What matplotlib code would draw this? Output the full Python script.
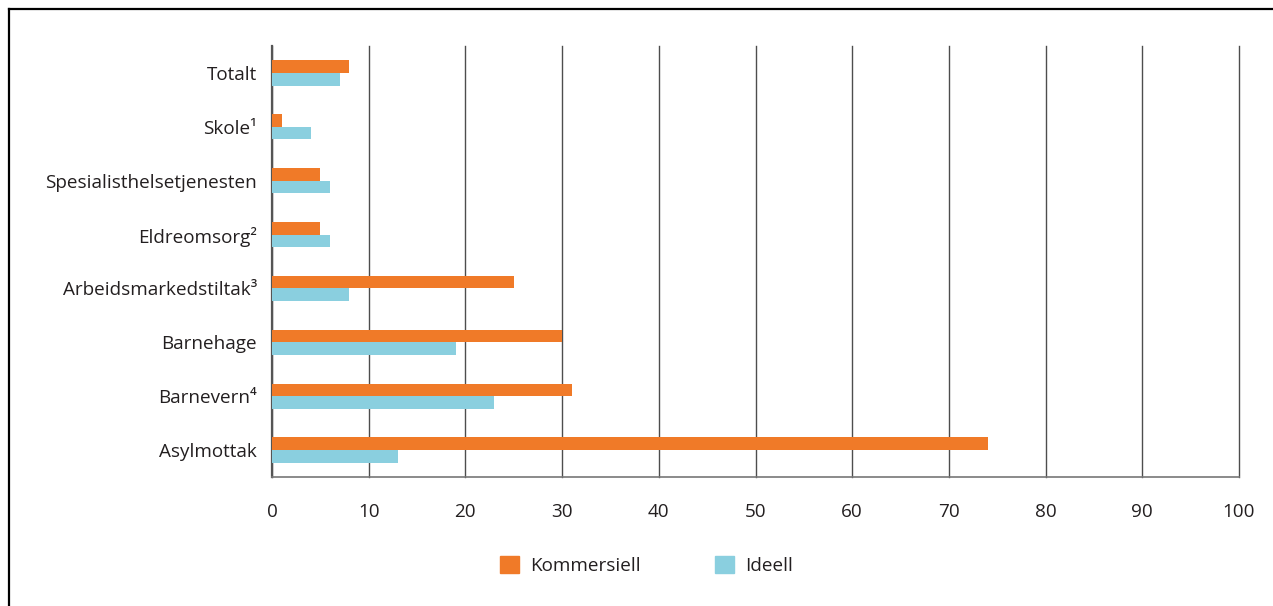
import numpy as np
import matplotlib as mpl
import matplotlib.pyplot as plt
from matplotlib.patches import Patch
from matplotlib.lines import Line2D

plt.rcParams['font.family'] = ['Open Sans', 'DejaVu Sans']

categories = ['Totalt', 'Skole\u00b9', 'Spesialisthelsetjenesten', 'Eldreomsorg\u00b2',
              'Arbeidsmarkedstiltak\u00b3', 'Barnehage', 'Barnevern\u2074', 'Asylmottak']
kommersiell = [8, 1, 5, 5, 25, 30, 31, 74]
ideell = [7, 4, 6, 6, 8, 19, 23, 13]
xticks = list(range(0, 101, 10))

c_k = '#f07a28'
c_i = '#8acfdf'
txt = '#231f20'
fs = 13.6

fig = plt.figure(figsize=(12.73, 6.06), dpi=100)
ax = fig.add_axes([0.2137, 0.2129, 0.7596, 0.7112])

y = np.arange(len(categories))
h = 0.235
ax.barh(y - h/2, kommersiell, height=h, color=c_k, zorder=3)
ax.barh(y + h/2, ideell, height=h, color=c_i, zorder=3)

ax.set_xlim(0, 100)
ax.set_ylim(len(categories) - 0.5, -0.5)
ax.set_xticks(xticks)
ax.set_yticks(y)
ax.set_yticklabels(categories)
ax.tick_params(length=0, labelsize=fs, colors=txt)
ax.tick_params(axis='y', pad=11)
ax.tick_params(axis='x', pad=19)
ax.grid(axis='x', color='#4d4d4d', lw=1, zorder=1)
for gl in ax.get_xgridlines():
    gl.set_clip_on(False)

for s in ['top', 'right']:
    ax.spines[s].set_visible(False)
ax.spines['left'].set_color('#555555')
ax.spines['left'].set_linewidth(1.6)
ax.spines['bottom'].set_color('#777777')
ax.spines['bottom'].set_linewidth(1.2)

handles = [Patch(color=c_k, label='Kommersiell'), Patch(color=c_i, label='Ideell')]
leg = fig.legend(handles=handles, loc='center', bbox_to_anchor=(0.508, 0.067), ncol=2,
                 frameon=False, fontsize=fs, handlelength=1.0, handleheight=1.0,
                 handletextpad=0.6, columnspacing=3.9)
for t in leg.get_texts():
    t.set_color(txt)

# border at top and left
fig.add_artist(Line2D([9/1273, 1.01], [1 - 9/606, 1 - 9/606], color='black', lw=1.6,
                      transform=fig.transFigure))
fig.add_artist(Line2D([9/1273, 9/1273], [-0.01, 1 - 9/606], color='black', lw=1.6,
                      transform=fig.transFigure))

plt.savefig('out.png', dpi=100)
